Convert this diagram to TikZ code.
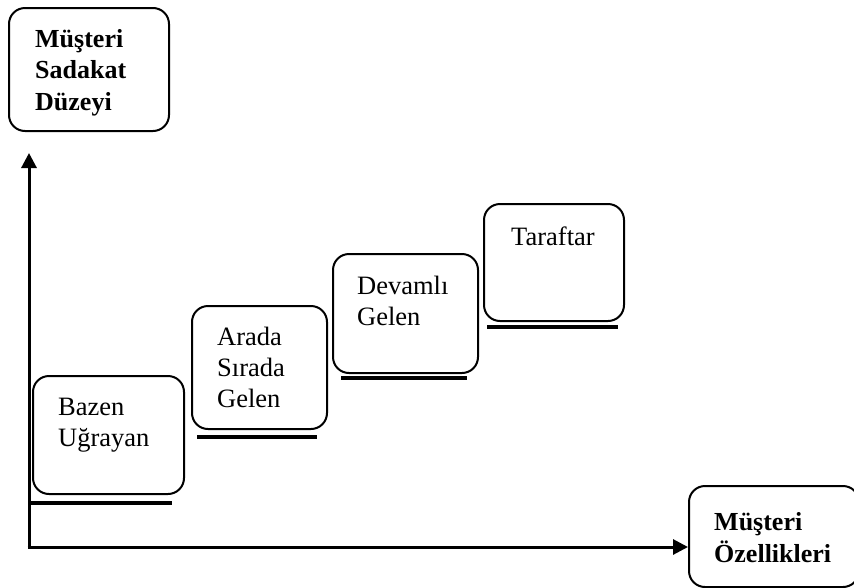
\documentclass[tikz,border=0pt]{standalone}
\usepackage{fontspec}
\setmainfont{Liberation Serif}
\usetikzlibrary{arrows.meta}
\begin{document}
\begin{tikzpicture}[x=1pt,y=-1pt,
  box/.style={draw,line width=2pt,rounded corners=16pt,anchor=north west,inner sep=0pt},
  axis/.style={line width=3pt,-{Triangle[length=15pt,width=15pt]}},
  bar/.style={line width=4pt},
  lbl/.style={anchor=base west,align=left,inner sep=0pt,font=\fontsize{26.5}{31}\selectfont},
  head/.style={anchor=base west,align=left,inner sep=0pt,font=\fontsize{26}{31.5}\selectfont\bfseries}]
\useasboundingbox (0,0) rectangle (854,587);
% boxes
\node[box,minimum width=160pt,minimum height=123pt] (sadakat) at (8,7) {};
\node[box,minimum width=151pt,minimum height=118pt] (bazen) at (32,375) {};
\node[box,minimum width=135pt,minimum height=123pt] (arada) at (191,305) {};
\node[box,minimum width=145pt,minimum height=119pt] (devamli) at (332,253) {};
\node[box,minimum width=140pt,minimum height=117pt] (taraftar) at (483,203) {};
\node[box,minimum width=170pt,minimum height=101pt] (ozel) at (688,485) {};
% texts (anchored at the baseline of the last line)
\node[head] (tsadakat) at (35,110) {Müşteri\\Sadakat\\Düzeyi};
\node[lbl] (tbazen) at (58,446) {Bazen\\Uğrayan};
\node[lbl] (tarada) at (217,407) {Arada\\Sırada\\Gelen};
\node[lbl] (tdevamli) at (357,325) {Devamlı\\Gelen};
\node[lbl] (ttaraftar) at (511,245) {Taraftar};
\node[head] (tozel) at (714,562) {Müşteri\\Özellikleri};
% underlines
\draw[bar] (30,503) -- (172,503);
\draw[bar] (197,437) -- (317,437);
\draw[bar] (341,378) -- (467,378);
\draw[bar] (487,327) -- (618,327);
% axes
\coordinate (origin) at (29,547);
\coordinate (ytip) at (29,153);
\draw[axis] ([yshift=-1.5pt]origin) -- (ytip);
\draw[axis] ([xshift=-1.5pt]origin) -- (origin -| ozel.west);
\end{tikzpicture}
\end{document}
